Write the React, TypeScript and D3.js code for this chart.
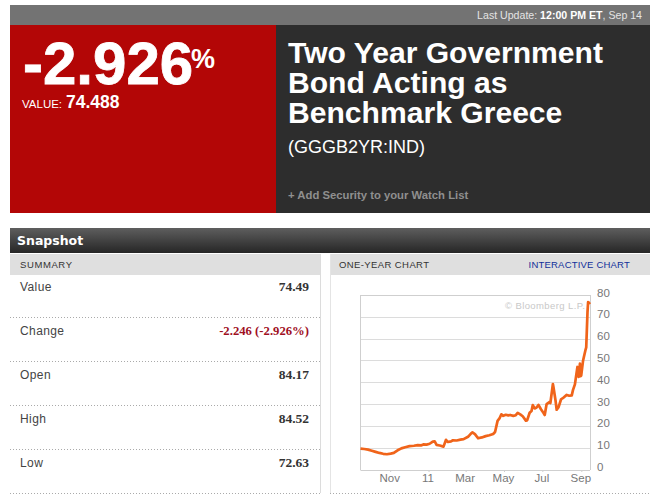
import React from "react";
import * as d3 from "d3";

const summaryLabels = ["Value", "Change", "Open", "High", "Low"];
const summaryValues = ["74.49", "-2.246 (-2.926%)", "84.17", "84.52", "72.63"];
const titleLines = ["Two Year Government", "Bond Acting as", "Benchmark Greece"];

// one-year history
const dates = [
  "2010-09-14", "2010-09-20", "2010-09-26", "2010-10-02", "2010-10-08", "2010-10-14", "2010-10-20", "2010-10-26",
  "2010-11-01", "2010-11-06", "2010-11-12", "2010-11-18", "2010-11-24", "2010-12-01", "2010-12-08", "2010-12-14",
  "2010-12-20", "2010-12-23", "2010-12-28", "2011-01-02", "2011-01-07", "2011-01-10", "2011-01-13", "2011-01-18",
  "2011-01-24", "2011-01-28", "2011-01-31", "2011-02-05", "2011-02-08", "2011-02-14", "2011-02-20", "2011-02-25",
  "2011-03-04", "2011-03-09", "2011-03-11", "2011-03-15", "2011-03-20", "2011-03-26", "2011-04-01", "2011-04-07",
  "2011-04-13", "2011-04-16", "2011-04-20", "2011-04-23", "2011-04-26", "2011-04-29", "2011-05-03", "2011-05-07",
  "2011-05-10", "2011-05-15", "2011-05-19", "2011-05-22", "2011-05-26", "2011-05-30", "2011-06-04", "2011-06-06",
  "2011-06-10", "2011-06-13", "2011-06-15", "2011-06-18", "2011-06-21", "2011-06-24", "2011-06-28", "2011-07-01",
  "2011-07-04", "2011-07-07", "2011-07-12", "2011-07-13", "2011-07-17", "2011-07-18", "2011-07-21", "2011-07-23",
  "2011-07-26", "2011-07-30", "2011-08-03", "2011-08-08", "2011-08-12", "2011-08-16", "2011-08-18", "2011-08-21",
  "2011-08-25", "2011-08-27", "2011-08-29", "2011-08-30", "2011-08-31", "2011-09-03", "2011-09-05", "2011-09-07",
  "2011-09-08", "2011-09-10", "2011-09-11", "2011-09-14",
];
const yields = [
  9.6, 9.4, 9.1, 8.6, 8.1, 7.6, 7.2, 7.0,
  7.3, 7.6, 8.8, 9.7, 10.2, 10.7, 10.9, 11.2,
  11.1, 11.5, 11.4, 11.8, 12.8, 12.9, 11.3, 11.0,
  10.5, 13.6, 12.6, 12.9, 13.4, 13.3, 13.7, 13.9,
  15.0, 16.6, 17.0, 16.2, 14.3, 14.7, 15.3, 15.7,
  16.3, 17.2, 22.3, 23.4, 25.3, 24.6, 25.1, 24.8,
  25.0, 24.6, 24.9, 26.0, 25.3, 24.4, 22.4, 22.5,
  26.0, 26.8, 29.5, 28.0, 28.4, 29.6, 27.6, 26.4,
  25.0, 30.0, 31.0, 30.5, 39.2, 37.6, 32.0, 27.4,
  28.6, 32.2, 33.0, 34.2, 33.8, 34.0, 36.5, 39.0,
  47.0, 42.5, 48.5, 42.8, 43.0, 50.0, 52.5, 55.0,
  56.0, 72.0, 76.8, 75.8,
];
const yTicks = [0, 10, 20, 30, 40, 50, 60, 70, 80];

const SANS = "'Liberation Sans', Arial, sans-serif";
const VERDANA = "'DejaVu Sans', Verdana, sans-serif";
const ROW_LINES = [317, 361, 405, 449, 493];

export default function App() {
  const parse = d3.timeParse("%Y-%m-%d");
  const points = dates.map((d, i) => ({ date: parse(d) as Date, value: yields[i] }));

  const x = d3
    .scaleTime()
    .domain([parse(dates[0]) as Date, parse(dates[dates.length - 1]) as Date])
    .range([360.5, 590]);
  const y = d3.scaleLinear().domain([0, 80]).range([469.5, 295]);

  const line = d3
    .line<{ date: Date; value: number }>()
    .x((d) => x(d.date))
    .y((d) => y(d.value));

  const monthTicks = x.ticks(d3.timeMonth.every(2) as d3.TimeInterval);
  const monthLabel = (d: Date) =>
    d.getMonth() === 0 ? d3.timeFormat("%y")(d) : d3.timeFormat("%b")(d);

  return (
    <svg
      width={657}
      height={503}
      style={{ position: "absolute", left: 0, top: 0, background: "#fff" }}
    >
      <defs>
        <linearGradient id="bar" x1="0" x2="0" y1="0" y2="1">
          <stop offset="0" stopColor="#5e5e5e" />
          <stop offset="1" stopColor="#262626" />
        </linearGradient>
      </defs>

      {/* header */}
      <rect x={10} y={5} width={640} height={20} fill="#737373" />
      <text x={642} y={19} textAnchor="end" fontFamily={SANS} fontSize={10.6} fill="#e4e4e4">
        Last Update: <tspan fontWeight="bold" fill="#fff">12:00 PM ET</tspan>, Sep 14
      </text>
      <rect x={10} y={25} width={266} height={188} fill="#b30606" />
      <rect x={276} y={25} width={374} height={188} fill="#2d2d2d" />

      <text x={23} y={84} fontFamily={SANS} fontSize={60} fontWeight="bold" fill="#fff" stroke="#fff" strokeWidth={0.8}>-2.926</text>
      <text x={191} y={68} fontFamily={SANS} fontSize={27} fontWeight="bold" fill="#fff">%</text>
      <text x={22} y={108} fontFamily={SANS} fontSize={11.5} fill="#fff">VALUE:</text>
      <text x={66} y={108} fontFamily={SANS} fontSize={17.5} fontWeight="bold" fill="#fff">74.488</text>

      {titleLines.map((t, i) => (
        <text key={t} x={288} y={63 + i * 30} fontFamily={SANS} fontSize={30.1} fontWeight="bold" fill="#fff">
          {t}
        </text>
      ))}
      <text x={288} y={153} fontFamily={SANS} fontSize={18} fill="#fff">(GGGB2YR:IND)</text>
      <text x={288} y={199} fontFamily={SANS} fontSize={11.3} fontWeight="bold" fill="#8f8f8f">
        + Add Security to your Watch List
      </text>

      {/* snapshot bar */}
      <rect x={10} y={228} width={640} height={25} fill="url(#bar)" />
      <text x={17} y={245} fontFamily={VERDANA} fontSize={12.5} fontWeight="bold" fill="#fff">Snapshot</text>

      {/* sub headers */}
      <rect x={10} y={254} width={310} height={21} fill="#dfdfdf" />
      <rect x={330} y={254} width={320} height={21} fill="#dfdfdf" />
      <text x={20} y={268} fontFamily={SANS} fontSize={9.5} letterSpacing={0.6} fill="#333">SUMMARY</text>
      <text x={339} y={268} fontFamily={SANS} fontSize={9.5} letterSpacing={0.4} fill="#333">ONE-YEAR CHART</text>
      <text x={630} y={268} textAnchor="end" fontFamily={SANS} fontSize={9.5} letterSpacing={0.2} fill="#12309a">
        INTERACTIVE CHART
      </text>
      <line x1={320.5} x2={320.5} y1={254} y2={493} stroke="#dcdcdc" />
      <line x1={330.5} x2={330.5} y1={254} y2={493} stroke="#e4e4e4" />

      {/* summary table */}
      {summaryLabels.map((label, i) => (
        <g key={label}>
          <text x={20} y={291 + i * 44} fontFamily={SANS} fontSize={12} letterSpacing={0.4} fill="#444">
            {label}
          </text>
          <text
            x={309}
            y={291 + i * 44}
            textAnchor="end"
            fontFamily="'Liberation Serif', 'Times New Roman', serif"
            fontSize={label === "Change" ? 12.7 : 13.5}
            fontWeight="bold"
            fill={label === "Change" ? "#a0101f" : "#333"}
          >
            {summaryValues[i]}
          </text>
          <line
            x1={10}
            x2={320}
            y1={ROW_LINES[i] + 0.5}
            y2={ROW_LINES[i] + 0.5}
            stroke="#aaa"
            strokeDasharray="1 2"
          />
        </g>
      ))}
      <line x1={330} x2={650} y1={493.5} y2={493.5} stroke="#aaa" strokeDasharray="1 2" />

      {/* chart */}
      {yTicks.map((t) => (
        <g key={t}>
          <line
            x1={360.5}
            x2={590}
            y1={Math.round(y(t)) + 0.5}
            y2={Math.round(y(t)) + 0.5}
            stroke={t === 0 || t === 80 ? "#cfcfcf" : "#dcdcdc"}
          />
          <text x={597} y={y(t) + 1.5} fontFamily={SANS} fontSize={11.5} fill="#777">
            {t}
          </text>
        </g>
      ))}
      <line x1={360.5} x2={360.5} y1={295} y2={470} stroke="#cfcfcf" />
      <line x1={590.5} x2={590.5} y1={295} y2={470} stroke="#cfcfcf" />
      {monthTicks.map((d) => (
        <g key={d.getTime()}>
          <line x1={x(d)} x2={x(d)} y1={470} y2={472} stroke="#cfcfcf" />
          <text x={x(d) - 1} y={482} textAnchor="middle" fontFamily={SANS} fontSize={11.5} fill="#777">
            {monthLabel(d)}
          </text>
        </g>
      ))}
      <text x={505} y={309} fontFamily={SANS} fontSize={9.5} letterSpacing={0.4} fill="#c8c8c8">
        © Bloomberg L.P.
      </text>
      <path
        d={line(points) ?? ""}
        fill="none"
        stroke="#f0641a"
        strokeWidth={2.7}
        strokeLinejoin="round"
      />
    </svg>
  );
}
